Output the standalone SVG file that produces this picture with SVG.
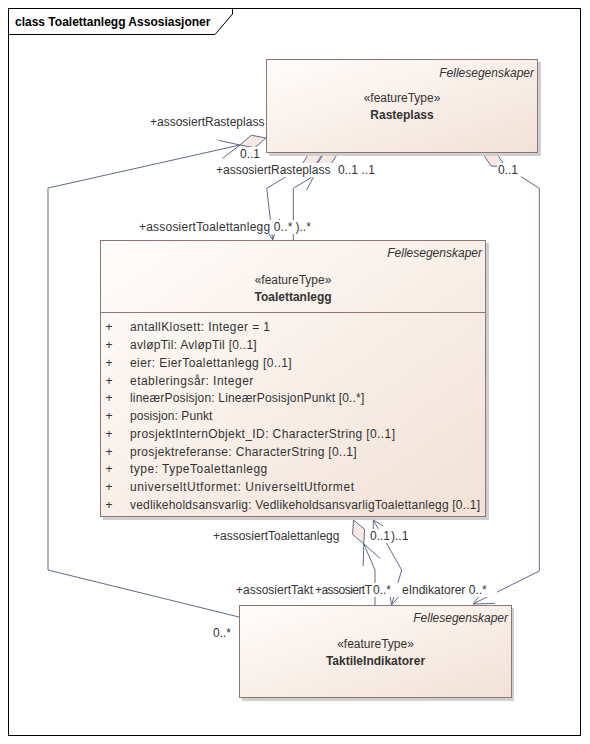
<svg xmlns="http://www.w3.org/2000/svg" width="590" height="744" viewBox="0 0 590 744">
<defs>
<linearGradient id="gf" x1="0" y1="0" x2="1" y2="1">
<stop offset="0" stop-color="#fffdfb"/>
<stop offset="1" stop-color="#f2e1d6"/>
</linearGradient>
<style>
text{font-family:"Liberation Sans",Arial,sans-serif;font-size:12px;fill:#333}
.title{font-weight:bold;fill:#000}
.box{fill:url(#gf);stroke:#8e7672;stroke-width:1}
.shadow{fill:#cfcfcf}
.it{font-style:italic}
.b{font-weight:bold}
.mid{text-anchor:middle}
.end{text-anchor:end}
.ln{fill:none;stroke:#5f6b85;stroke-width:1}
.dia{fill:#f6e9e3;stroke:#5f6b85;stroke-width:1}
.bg{fill:#fff}
</style>
</defs>
<rect x="0" y="0" width="590" height="744" fill="#fff"/>
<g id="frame">
<rect x="8.5" y="8.5" width="572" height="727" fill="none" stroke="#000"/>
<path d="M8.5,34.5 H215 L232.5,14 V8.5" fill="none" stroke="#000"/>
<text x="15" y="26" class="title">class Toalettanlegg Assosiasjoner</text>
</g>
<g id="connectors">
<polyline class="ln" points="239,617 48,570 48,188 240,145"/>
<polyline class="ln" points="218.5,140.3 240,145 222.6,158.4"/>
<polygon class="dia" points="240,145 251.3,135.2 266,138 254.7,147.8"/>
<polyline class="ln" points="505.6,166.8 539.3,188.3 539.3,571 473,604"/>
<polygon class="dia" points="483,154 497.5,154.8 505.6,166.8 491.1,166"/>
<polyline class="ln" points="486.7,586.8 473,604 495,603.4"/>
<polyline class="ln" points="300.7,166.4 283.3,178.3 266.7,188.3 272.7,240"/>
<polygon class="dia" points="323,153 308.5,154.1 300.7,166.4 315.2,165.3"/>
<polyline class="ln" points="279.6,219.1 272.7,240 261.2,221.3"/>
<polyline class="ln" points="315.7,166.4 310,178.3 293.3,188.3 293.3,240"/>
<polygon class="dia" points="338,153 323.5,154.1 315.7,166.4 330.2,165.3"/>
<polyline class="ln" points="314,176 306.7,190"/>
<polyline class="ln" points="363.8,543.9 375,570 375,605"/>
<polygon class="dia" points="353.5,520 364.6,529.3 363.8,543.9 352.6,534.5"/>
<polyline class="ln" points="380.2,558.5 363.8,543.9 363.1,565.9"/>
<polyline class="ln" points="373.3,520 401.7,570 391.5,605"/>
<polyline class="ln" points="373.3,532 373.3,520 383.4,526"/>
<polyline class="ln" points="406,588.5 391.5,605 388.2,583.3"/>
</g>
<g id="labels">
<rect class="bg" x="149" y="115" width="117" height="14"/>
<text x="150" y="126">+assosiertRasteplass</text>
<rect class="bg" x="239" y="147" width="24" height="14"/>
<text x="240" y="158">0..1</text>
<rect class="bg" x="215" y="163" width="162" height="14"/>
<text x="216" y="174">+assosiertRasteplass</text>
<text x="338" y="174">0..1</text>
<text x="361.5" y="174">..1</text>
<rect class="bg" x="497" y="163" width="24" height="14"/>
<text x="498" y="174">0..1</text>
<rect class="bg" x="138" y="220" width="181" height="14"/>
<text x="139" y="231" textLength="153.5">+assosiertToalettanlegg 0..*</text>
<text x="295.5" y="231">)..*</text>
<rect class="bg" x="212" y="529" width="135" height="14"/>
<text x="213" y="540">+assosiertToalettanlegg</text>
<rect class="bg" x="369" y="529" width="42" height="14"/>
<text x="370" y="540">0..1</text>
<text x="391" y="540">)..1</text>
<rect class="bg" x="235" y="583" width="262" height="14"/>
<text x="236" y="594" textLength="77">+assosiertTakt</text>
<text x="315" y="594" textLength="57">+assosiertT</text>
<text x="373" y="594">0..*</text>
<text x="402" y="594">eIndikatorer 0..*</text>
<rect class="bg" x="212" y="626" width="23" height="14"/>
<text x="213" y="637">0..*</text>
</g>
<g id="Rasteplass">
<rect class="shadow" x="269" y="62" width="272" height="94"/>
<rect class="box" x="266.5" y="59.5" width="271" height="93"/>
<text x="534" y="77" class="it end">Fellesegenskaper</text>
<text x="402" y="102" class="mid">«featureType»</text>
<text x="402" y="119" class="mid b">Rasteplass</text>
</g>
<g id="Toalettanlegg">
<rect class="shadow" x="103" y="243" width="386" height="277"/>
<rect class="box" x="100.5" y="240.5" width="385" height="276"/>
<line x1="100.5" y1="312.5" x2="485.5" y2="312.5" stroke="#8e7672"/>
<text x="482" y="257" class="it end">Fellesegenskaper</text>
<text x="293" y="284" class="mid">«featureType»</text>
<text x="293" y="301" class="mid b">Toalettanlegg</text>
<text x="105.5" y="331.3">+</text><text x="130" y="331.3" textLength="140">antallKlosett: Integer = 1</text>
<text x="105.5" y="349">+</text><text x="130" y="349" textLength="126.7">avløpTil: AvløpTil [0..1]</text>
<text x="105.5" y="366.8">+</text><text x="130" y="366.8" textLength="161.7">eier: EierToalettanlegg [0..1]</text>
<text x="105.5" y="384.5">+</text><text x="130" y="384.5" textLength="123.3">etableringsår: Integer</text>
<text x="105.5" y="402.3">+</text><text x="130" y="402.3" textLength="234.3">lineærPosisjon: LineærPosisjonPunkt [0..*]</text>
<text x="105.5" y="420.1">+</text><text x="130" y="420.1" textLength="82.3">posisjon: Punkt</text>
<text x="105.5" y="437.8">+</text><text x="130" y="437.8" textLength="265">prosjektInternObjekt_ID: CharacterString [0..1]</text>
<text x="105.5" y="455.6">+</text><text x="130" y="455.6" textLength="226.7">prosjektreferanse: CharacterString [0..1]</text>
<text x="105.5" y="473.3">+</text><text x="130" y="473.3" textLength="137.3">type: TypeToalettanlegg</text>
<text x="105.5" y="491.1">+</text><text x="130" y="491.1" textLength="224">universeltUtformet: UniverseltUtformet</text>
<text x="105.5" y="508.8">+</text><text x="130" y="508.8" textLength="350">vedlikeholdsansvarlig: VedlikeholdsansvarligToalettanlegg [0..1]</text>
</g>
<g id="TaktileIndikatorer">
<rect class="shadow" x="242" y="608" width="272" height="93"/>
<rect class="box" x="239.5" y="605.5" width="272" height="92"/>
<text x="508" y="622" class="it end">Fellesegenskaper</text>
<text x="375.5" y="648" class="mid">«featureType»</text>
<text x="375.5" y="665" class="mid b">TaktileIndikatorer</text>
</g>
</svg>
